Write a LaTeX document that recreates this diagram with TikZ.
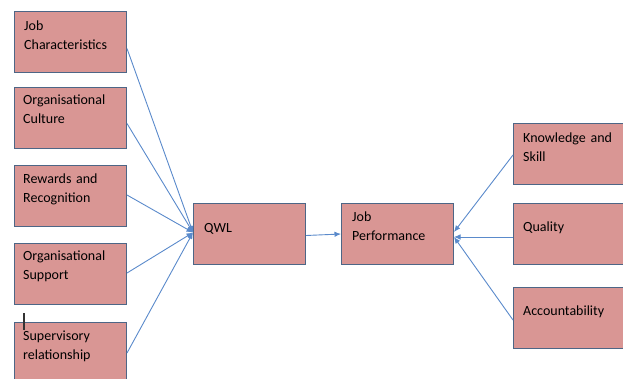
\documentclass[tikz,border=0pt]{standalone}
\usepackage{fontspec}
\setmainfont{Carlito}
\usetikzlibrary{arrows.meta,calc}
\definecolor{boxfill}{HTML}{D99694}
\definecolor{boxline}{HTML}{4D6686}
\definecolor{linkcol}{HTML}{5A8ACB}
\tikzset{
  box/.style={draw=boxline, fill=boxfill, line width=1pt, anchor=north west,
    minimum width=112pt, minimum height=61pt, inner sep=0pt},
  lbl/.style={anchor=base west, inner sep=0pt, align=left, text width=110pt,
    font=\fontsize{14}{19}\selectfont, text=black},
  conn/.style={draw=linkcol, line width=0.9pt, -{Latex[length=6.5pt,width=5.5pt]}},
}
\begin{document}
\begin{tikzpicture}[x=1pt,y=-1pt]
\useasboundingbox (0,0) rectangle (623,378);
% input factors
\node[box] (b1) at (14,11) {};
\node[box] (b2) at (14,87) {};
\node[box] (b3) at (14,165) {};
\node[box] (b4) at (14,243) {};
\node[box] (b5) at (14,322) {};
% central boxes
\node[box] (q) at (193,203) {};
\node[box] (jp) at (341,203) {};
% performance dimensions
\node[box] (k) at (513,123) {};
\node[box] (ql) at (513,203) {};
\node[box] (ac) at (513,287) {};
% labels
\node[lbl] (t1) at (24,30) {Job\\Characteristics};
\node[lbl] (t2) at (23,104) {Organisational\\Culture};
\node[lbl] (t3) at (23,183) {Rewards and\\Recognition};
\node[lbl] (t4) at (23,260) {Organisational\\Support};
\node[lbl] (t5) at (23,340) {Supervisory\\relationship};
\node[lbl] (tq) at (204,232) {QWL};
\node[lbl] (tjp) at (352,221) {Job\\Performance};
\node[lbl] (tk) at (523,142) {Knowledge and\\Skill};
\node[lbl] (tql) at (523,231) {Quality};
\node[lbl] (tac) at (523,315) {Accountability};
% text cursor mark
\draw[black!80, line width=1.1pt] (24,313) -- (24,330);
% connectors
\draw[conn] ($(b1.east)+(0,6.5)$) -- ($(q.west)+(0,-1.5)$);
\draw[conn] ($(b2.east)+(0,5.5)$) -- ($(q.west)+(0,-1.5)$);
\draw[conn] ($(b3.east)+(0,-1)$) -- ($(q.west)+(0,-1.5)$);
\draw[conn] ($(b4.east)+(0,-1)$) -- ($(q.west)+(0,-1.5)$);
\draw[conn] ($(b5.east)+(0,0)$) -- ($(q.west)+(0,-1.5)$);
\draw[conn] ($(q.east)+(0,1.5)$) -- (jp.west);
\draw[conn] ($(k.west)+(0,1)$) -- ($(jp.east)+(0,-2)$);
\draw[conn] ($(ql.west)+(0,3)$) -- ($(jp.east)+(0,3)$);
\draw[conn] ($(ac.west)+(0,2)$) -- ($(jp.east)+(0,3)$);
\end{tikzpicture}
\end{document}
